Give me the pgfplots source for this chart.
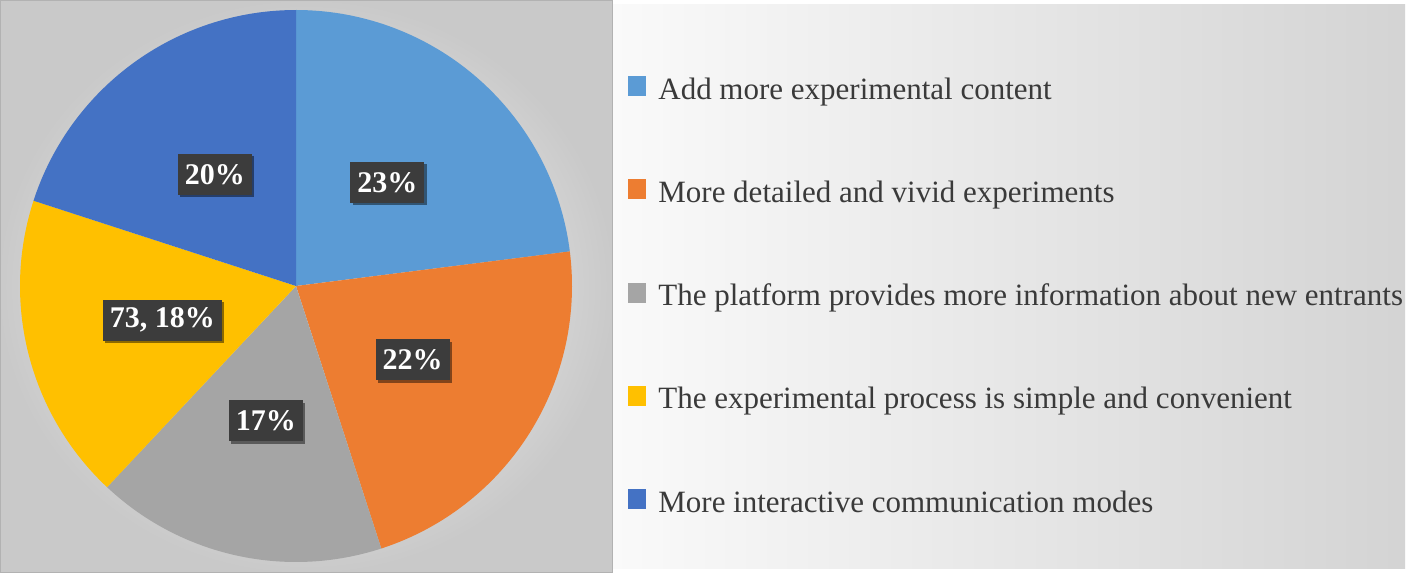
\documentclass[border=0pt]{standalone}
\usepackage{fontspec}
\setmainfont{Liberation Serif}
\usepackage{pgfplots}
\usepackage{pgfplotstable}
\pgfplotsset{compat=1.18}
\usetikzlibrary{shadows}

\definecolor{cA}{HTML}{5B9BD5}
\definecolor{cB}{HTML}{ED7D31}
\definecolor{cC}{HTML}{A5A5A5}
\definecolor{cD}{HTML}{FFC000}
\definecolor{cE}{HTML}{4472C4}
\definecolor{txt}{HTML}{3A3A3A}
\definecolor{lbl}{HTML}{3C3C3C}

% share of answers (percent), clockwise from 12 o'clock
\pgfplotstableread{
idx pct
0 23
1 22
2 17
3 18
4 20
}\piedata

\newcommand\getpct[2]{\pgfplotstablegetelem{#1}{pct}\of\piedata\edef#2{\pgfplotsretval}}
\getpct{0}\pA \getpct{1}\pB \getpct{2}\pC \getpct{3}\pD \getpct{4}\pE
\pgfmathsetmacro\sA{90}
\pgfmathsetmacro\eA{\sA-3.6*\pA}
\pgfmathsetmacro\eB{\eA-3.6*\pB}
\pgfmathsetmacro\eC{\eB-3.6*\pC}
\pgfmathsetmacro\eD{\eC-3.6*\pD}
\pgfmathsetmacro\eE{\eD-3.6*\pE}
\pgfmathsetmacro\xA{0.5*cos((\sA+\eA)/2)}\pgfmathsetmacro\yA{0.5*sin((\sA+\eA)/2)}
\pgfmathsetmacro\xB{0.5*cos((\eA+\eB)/2)}\pgfmathsetmacro\yB{0.5*sin((\eA+\eB)/2)}
\pgfmathsetmacro\xC{0.5*cos((\eB+\eC)/2)}\pgfmathsetmacro\yC{0.5*sin((\eB+\eC)/2)}
\pgfmathsetmacro\xD{0.5*cos((\eC+\eD)/2)}\pgfmathsetmacro\yD{0.5*sin((\eC+\eD)/2)}
\pgfmathsetmacro\xE{0.5*cos((\eD+\eE)/2)}\pgfmathsetmacro\yE{0.5*sin((\eD+\eE)/2)}

\tikzset{lab/.style={fill=lbl, text=white, font=\bfseries\fontsize{15}{17}\selectfont,
  inner xsep=3.5pt, inner ysep=0pt, minimum height=20.5pt,
  drop shadow={shadow xshift=1.2pt, shadow yshift=-1.2pt, opacity=0.45, fill=black}}}

\begin{document}
\begin{tikzpicture}[x=0.5pt, y=0.5pt]
  \fill[white] (0,0) rectangle (1416,573);
  \shade[inner color=white, outer color=black!21] (0,1) rectangle (612,572);
  \draw[black!30, line width=0.5pt] (0.5,1) rectangle (612,572);
  \shade[left color=black!2, right color=black!17] (613,5) rectangle (1405,568);
  \begin{axis}[
    at={(148pt,143.5pt)}, anchor=center,
    scale only axis, width=276pt, height=276pt,
    xmin=-1, xmax=1, ymin=-1, ymax=1,
    hide axis, clip=false,
    legend cell align=left,
    legend image code/.code={\fill[#1] (0pt,-2.5pt) rectangle (9pt,7.5pt);},
    legend style={at={(1.1014,0.881)}, anchor=north west, draw=none, fill=none,
      inner sep=0pt, row sep=36.65pt, column sep=6pt,
      font=\fontsize{15.5}{18}\selectfont, text=txt,
      nodes={inner sep=0pt, text height=11.5pt, text depth=3.5pt}},
  ]
    \addplot[fill=cA, draw=none, domain=\eA:\sA, samples=120] ({cos(x)},{sin(x)}) -- (axis cs:0,0) -- cycle;
    \addlegendentry{Add more experimental content}
    \addplot[fill=cB, draw=none, domain=\eB:\eA, samples=120] ({cos(x)},{sin(x)}) -- (axis cs:0,0) -- cycle;
    \addlegendentry{More detailed and vivid experiments}
    \addplot[fill=cC, draw=none, domain=\eC:\eB, samples=120] ({cos(x)},{sin(x)}) -- (axis cs:0,0) -- cycle;
    \addlegendentry{The platform provides more information about new entrants}
    \addplot[fill=cD, draw=none, domain=\eD:\eC, samples=120] ({cos(x)},{sin(x)}) -- (axis cs:0,0) -- cycle;
    \addlegendentry{The experimental process is simple and convenient}
    \addplot[fill=cE, draw=none, domain=\eE:\eD, samples=120] ({cos(x)},{sin(x)}) -- (axis cs:0,0) -- cycle;
    \addlegendentry{More interactive communication modes}

    \node[lab] at (axis cs:\xA,\yA) {23\%};
    \node[lab] at (axis cs:\xB,\yB) {22\%};
    \node[lab] at (axis cs:\xC,\yC) {17\%};
    \node[lab] at (axis cs:\xD,\yD) {73, 18\%};
    \node[lab] at (axis cs:\xE,\yE) {20\%};
  \end{axis}
\end{tikzpicture}
\end{document}
